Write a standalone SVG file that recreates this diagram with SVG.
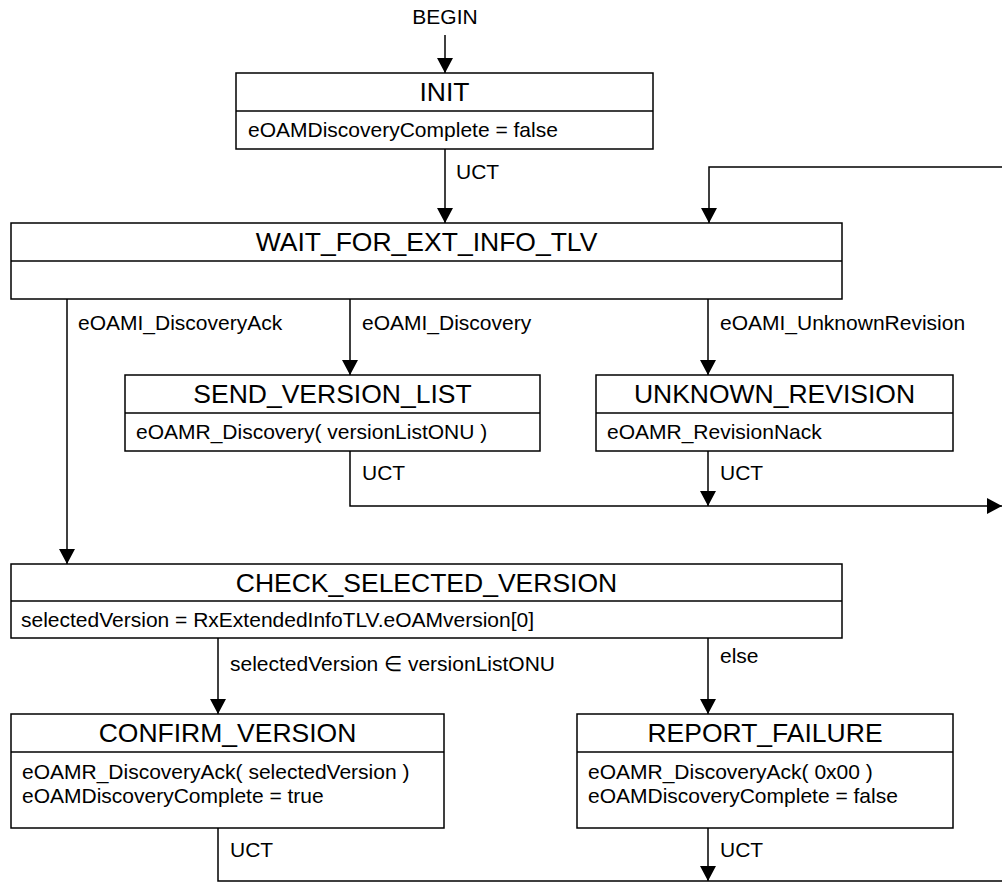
<svg xmlns="http://www.w3.org/2000/svg" width="1002" height="884" viewBox="0 0 1002 884">
<style>
.box{fill:#fff;stroke:#000;stroke-width:1.5}
.div{stroke:#000;stroke-width:1.5}
.title{font-family:"Liberation Sans",Arial,sans-serif;font-size:26.5px;text-anchor:middle;fill:#000}
.body{font-family:"Liberation Sans",Arial,sans-serif;font-size:21px;fill:#000}
.lbl{font-family:"Liberation Sans",Arial,sans-serif;font-size:21px;fill:#000}
.conn{fill:none;stroke:#000;stroke-width:1.5}
</style>
<defs>
<marker id="arr" viewBox="0 0 15 16" refX="15" refY="8" markerWidth="15" markerHeight="16" markerUnits="userSpaceOnUse" orient="auto">
<path d="M0,0 L15,8 L0,16 Z" fill="#000"/>
</marker>
</defs>
<rect width="1002" height="884" fill="#fff"/>

<g id="connectors">
<path class="conn" d="M445,35 V73" marker-end="url(#arr)"/>
<path class="conn" d="M445,149 V223" marker-end="url(#arr)"/>
<path class="conn" d="M1002,167 H709 V223" marker-end="url(#arr)"/>
<path class="conn" d="M67,299 V564" marker-end="url(#arr)"/>
<path class="conn" d="M350,299 V375" marker-end="url(#arr)"/>
<path class="conn" d="M708,299 V375" marker-end="url(#arr)"/>
<path class="conn" d="M350,451 V506 H1002" marker-end="url(#arr)"/>
<path class="conn" d="M708,451 V506" marker-end="url(#arr)"/>
<path class="conn" d="M218,638 V714" marker-end="url(#arr)"/>
<path class="conn" d="M708,638 V714" marker-end="url(#arr)"/>
<path class="conn" d="M218,828 V881 H1002"/>
<path class="conn" d="M708,828 V881" marker-end="url(#arr)"/>
<text class="lbl" x="445" y="24" text-anchor="middle">BEGIN</text>
<text class="lbl" x="456" y="179">UCT</text>
<text class="lbl" x="78" y="330">eOAMI_DiscoveryAck</text>
<text class="lbl" x="362" y="330">eOAMI_Discovery</text>
<text class="lbl" x="720" y="330">eOAMI_UnknownRevision</text>
<text class="lbl" x="362" y="480">UCT</text>
<text class="lbl" x="720" y="480">UCT</text>
<text class="lbl" x="230" y="671">selectedVersion ∈ versionListONU</text>
<text class="lbl" x="720" y="663">else</text>
<text class="lbl" x="230" y="857">UCT</text>
<text class="lbl" x="720" y="857">UCT</text>
</g>

<g id="INIT">
<rect class="box" x="236" y="73" width="417" height="76"/>
<line class="div" x1="236" y1="111" x2="653" y2="111"/>
<text class="title" x="444.5" y="101">INIT</text>
<text class="body" x="248" y="137">eOAMDiscoveryComplete = false</text>
</g>

<g id="WAIT_FOR_EXT_INFO_TLV">
<rect class="box" x="11" y="223" width="831" height="76"/>
<line class="div" x1="11" y1="261" x2="842" y2="261"/>
<text class="title" x="426.5" y="251">WAIT_FOR_EXT_INFO_TLV</text>
</g>

<g id="SEND_VERSION_LIST">
<rect class="box" x="125" y="375" width="415" height="76"/>
<line class="div" x1="125" y1="413" x2="540" y2="413"/>
<text class="title" x="332.5" y="403">SEND_VERSION_LIST</text>
<text class="body" x="136" y="439">eOAMR_Discovery( versionListONU )</text>
</g>

<g id="UNKNOWN_REVISION">
<rect class="box" x="596" y="375" width="357" height="76"/>
<line class="div" x1="596" y1="413" x2="953" y2="413"/>
<text class="title" x="774.5" y="403">UNKNOWN_REVISION</text>
<text class="body" x="607" y="439">eOAMR_RevisionNack</text>
</g>

<g id="CHECK_SELECTED_VERSION">
<rect class="box" x="11" y="564" width="831" height="74"/>
<line class="div" x1="11" y1="601" x2="842" y2="601"/>
<text class="title" x="426.5" y="592">CHECK_SELECTED_VERSION</text>
<text class="body" x="21" y="627">selectedVersion = RxExtendedInfoTLV.eOAMversion[0]</text>
</g>

<g id="CONFIRM_VERSION">
<rect class="box" x="11" y="714" width="433" height="114"/>
<line class="div" x1="11" y1="752" x2="444" y2="752"/>
<text class="title" x="227.5" y="742">CONFIRM_VERSION</text>
<text class="body" x="22" y="779">eOAMR_DiscoveryAck( selectedVersion )</text>
<text class="body" x="22" y="803">eOAMDiscoveryComplete = true</text>
</g>

<g id="REPORT_FAILURE">
<rect class="box" x="577" y="714" width="376" height="114"/>
<line class="div" x1="577" y1="752" x2="953" y2="752"/>
<text class="title" x="765" y="742">REPORT_FAILURE</text>
<text class="body" x="588" y="779">eOAMR_DiscoveryAck( 0x00 )</text>
<text class="body" x="588" y="803">eOAMDiscoveryComplete = false</text>
</g>
</svg>
